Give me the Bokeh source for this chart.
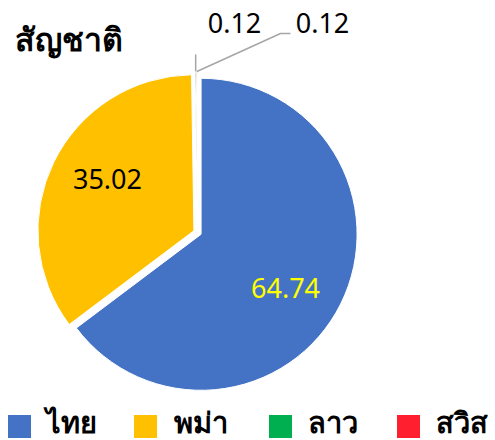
import math
from bokeh.plotting import figure
from bokeh.models import Range1d
from bokeh.core.properties import value
from bokeh.embed import file_html
from bokeh.resources import INLINE

title = "สัญชาติ"
categories = ["ไทย", "พม่า", "ลาว", "สวิส"]
values = [64.74, 35.02, 0.12, 0.12]
labels = ["64.74", "35.02", "0.12", "0.12"]
colors = ["#4472C4", "#FFC000", "#00B050", "#FF1F2E"]
label_colors = ["#FFFF00", "#000000", "#000000", "#000000"]

W, H = 495, 440
FONT = "Noto Sans"

p = figure(width=W, height=H, x_range=Range1d(0, W), y_range=Range1d(0, H),
           output_backend="svg", toolbar_location=None, min_border=0)
p.axis.visible = False
p.grid.visible = False
p.outline_line_color = None
p.background_fill_color = "white"
p.border_fill_color = "white"


def Y(sy):
    return H - sy


cx, cy, r = 197, Y(232), 156
explode = 4
total = sum(values)
start = 0.0
xs, ys, a0s, a1s, mids = [], [], [], [], []
for v in values:
    frac = v / total
    a0 = math.pi / 2 - start * 2 * math.pi
    a1 = math.pi / 2 - (start + frac) * 2 * math.pi
    mid = (a0 + a1) / 2
    xs.append(cx + explode * math.cos(mid))
    ys.append(cy + explode * math.sin(mid))
    a0s.append(a0)
    a1s.append(a1)
    mids.append(mid)
    start += frac

p.wedge(x=xs, y=ys, radius=r, start_angle=a0s, end_angle=a1s, direction="clock",
        fill_color=colors, line_color="white", line_width=1)

# inside labels for the two big slices
label_frac = [0.64, 0.647]
label_delta = [-5.7, -5.0]
for i in range(2):
    ang = mids[i] + math.radians(label_delta[i])
    lx = xs[i] + label_frac[i] * r * math.cos(ang)
    ly = ys[i] + label_frac[i] * r * math.sin(ang)
    p.text(x=[lx], y=[ly], text=[labels[i]], text_color=label_colors[i],
           text_font=value(FONT), text_font_size="27px",
           text_align="center", text_baseline="middle")

# outside labels for the tiny slices with leader lines
anc = []
for i in (2, 3):
    anc.append((xs[i] + (r + 1) * math.cos(mids[i]), ys[i] + (r + 1) * math.sin(mids[i])))
leader_color = "#A6A6A6"
p.line(x=[anc[0][0], anc[0][0]], y=[anc[0][1], Y(54)], line_color=leader_color, line_width=1.5)
p.line(x=[anc[1][0], 280, 290], y=[anc[1][1], Y(33), Y(33)], line_color=leader_color, line_width=1.5)
out_pos = [(234, Y(22)), (322, Y(22))]
for k, i in enumerate((2, 3)):
    p.text(x=[out_pos[k][0]], y=[out_pos[k][1]], text=[labels[i]], text_color=label_colors[i],
           text_font=value(FONT), text_font_size="27px",
           text_align="center", text_baseline="middle")

# title
p.text(x=[14], y=[Y(38)], text=[title], text_color="#000000", text_font=value(FONT),
       text_font_size="32px", text_font_style="bold", text_align="left",
       text_baseline="middle")

# legend
sq_x = [19, 145, 280, 408]
tx_x = [45, 173, 307, 435]
p.rect(x=sq_x, y=[Y(426)] * 4, width=23, height=23, fill_color=colors, line_color=None)
p.text(x=tx_x, y=[Y(421)] * 4, text=categories, text_color="#000000", text_font=value(FONT),
       text_font_size="29px", text_font_style="bold", text_align="left",
       text_baseline="middle")

open("out.html", "w").write(file_html(p, INLINE))
